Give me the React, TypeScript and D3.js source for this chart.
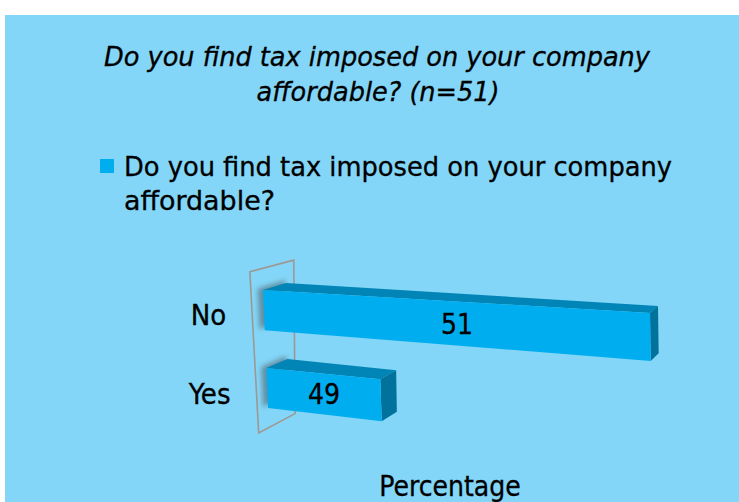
import React from "react";
import * as d3 from "d3";

// ---- data ----
const categories = ["No", "Yes"];
const values = [51, 49];
const seriesName = "Do you find tax imposed on your company affordable?";
const legendLines = ["Do you find tax imposed on your company", "affordable?"];
const titleLines = ["Do you find tax imposed on your company", "affordable? (n=51)"];
const axisTitle = "Percentage";
const valueDomain = [48, 51];

// ---- layout / scene constants ----
const W = 739;
const H = 502;
const BG = "#83D6F7";
const FRONT = "#00AEEF";
const TOP = "#0085B6";
const SIDE = "#00729C";
const WALL = "#9E9894";
const FONT = "'DejaVu Sans Condensed', 'Noto Sans', sans-serif";
const TXT = { fill: "#000", stroke: "#000", strokeWidth: 0.3 };

type Pt = [number, number];

// projective map of unit square -> quad (p00, p10, p11, p01)
function quadMap(p00: Pt, p10: Pt, p11: Pt, p01: Pt) {
  const [x0, y0] = p00, [x1, y1] = p10, [x2, y2] = p11, [x3, y3] = p01;
  const dx1 = x1 - x2, dx2 = x3 - x2, dx3 = x0 - x1 + x2 - x3;
  const dy1 = y1 - y2, dy2 = y3 - y2, dy3 = y0 - y1 + y2 - y3;
  const den = dx1 * dy2 - dx2 * dy1;
  const g = (dx3 * dy2 - dx2 * dy3) / den;
  const h = (dx1 * dy3 - dx3 * dy1) / den;
  const a = x1 - x0 + g * x1, b = x3 - x0 + h * x3, c = x0;
  const d = y1 - y0 + g * y1, e = y3 - y0 + h * y3, f = y0;
  return (u: number, v: number): Pt => {
    const w = g * u + h * v + 1;
    return [(a * u + b * v + c) / w, (d * u + e * v + f) / w];
  };
}

// front (z=0) and back (z=1) planes of the bars
const front = quadMap([263, 290], [650, 313], [652, 453], [268, 408]);
const back = quadMap([286, 283], [658, 306], [660, 445], [288, 398]);
function P(u: number, v: number, z: number): Pt {
  const a = front(u, v), b = back(u, v);
  return [a[0] + (b[0] - a[0]) * z, a[1] + (b[1] - a[1]) * z];
}

const xs = d3.scaleLinear().domain(valueDomain).range([0, 1]);
const ys = d3.scaleBand<string>().domain(categories).range([0, 1]).paddingInner(0.485).paddingOuter(0);

const wallV: [number, number] = [-0.18, 1.167];
const wallZ: [number, number] = [-0.52, 1.345];

const line = d3.line<Pt>().x((p) => p[0]).y((p) => p[1]).curve(d3.curveLinearClosed);

export default function App() {
  const bw = ys.bandwidth();
  const wallPoly: Pt[] = [
    P(0, wallV[0], wallZ[0]),
    P(0, wallV[0], wallZ[1]),
    P(0, wallV[1], wallZ[1]),
    P(0, wallV[1], wallZ[0]),
  ];
  return (
    <svg width={W} height={H} style={{ position: "absolute", left: 0, top: 0 }}>
      <defs>
        <filter id="sh" x="-50%" y="-50%" width="200%" height="200%">
          <feGaussianBlur stdDeviation="2.5" />
        </filter>
      </defs>
      <rect x={0} y={0} width={W} height={H} fill="#ffffff" />
      <rect x={5} y={15} width={W - 5} height={H - 15} fill={BG} />

      {/* title */}
      <g fontFamily={FONT} fontStyle="italic" fontSize={27} {...TXT} textAnchor="middle">
        <text x={377} y={66} textLength={546} lengthAdjust="spacingAndGlyphs">{titleLines[0]}</text>
        <text x={378} y={101} textLength={243} lengthAdjust="spacingAndGlyphs">{titleLines[1]}</text>
      </g>

      {/* legend */}
      <g fontFamily={FONT} fontSize={27} {...TXT}>
        <title>{seriesName}</title>
        <rect x={100} y={159} width={14} height={14} fill={FRONT} stroke="none" />
        <text x={124} y={176} textLength={548} lengthAdjust="spacingAndGlyphs">{legendLines[0]}</text>
        <text x={124} y={210} textLength={151} lengthAdjust="spacingAndGlyphs">{legendLines[1]}</text>
      </g>

      {/* wall */}
      <path d={line(wallPoly) || ""} fill="none" stroke={WALL} strokeWidth={1.6} />

      {/* bars */}
      {categories.map((cat, i) => {
        const u0 = xs(valueDomain[0]);
        const u1 = xs(values[i]);
        const v0 = ys(cat) as number;
        const v1 = v0 + bw;
        const frontF: Pt[] = [P(u0, v0, 0), P(u1, v0, 0), P(u1, v1, 0), P(u0, v1, 0)];
        const topF: Pt[] = [P(u0, v0, 0), P(u1, v0, 0), P(u1, v0, 1), P(u0, v0, 1)];
        const sideF: Pt[] = [P(u1, v0, 0), P(u1, v0, 1), P(u1, v1, 1), P(u1, v1, 0)];
        const endF: Pt[] = [P(u0, v0, -0.1), P(u0, v0, 1.1), P(u0, v1, 1.1), P(u0, v1, -0.1)].map(
          (p) => [p[0] - 3, p[1] - 2] as Pt
        );
        const fx = (frontF[0][0] + frontF[1][0] + frontF[2][0] + frontF[3][0]) / 4;
        const fy = (frontF[0][1] + frontF[1][1] + frontF[2][1] + frontF[3][1]) / 4;
        const lab = P(0, (v0 + v1) / 2, wallZ[0]);
        return (
          <g key={cat}>
            <path d={line(endF) || ""} fill="#4a5560" opacity={0.55} filter="url(#sh)" />
            <path d={line(topF) || ""} fill={TOP} />
            <path d={line(sideF) || ""} fill={SIDE} />
            <path d={line(frontF) || ""} fill={FRONT} />
            <text x={fx} y={fy} dy="0.36em" textAnchor="middle" fontFamily={FONT} fontSize={28} {...TXT}>
              {values[i]}
            </text>
            <text x={lab[0] - 26} y={lab[1]} dy="0.36em" textAnchor="end" fontFamily={FONT} fontSize={29} {...TXT}>
              {cat}
            </text>
          </g>
        );
      })}

      {/* axis title */}
      <text x={450} y={496} textAnchor="middle" fontFamily={FONT} fontSize={28} {...TXT}>
        {axisTitle}
      </text>
    </svg>
  );
}
